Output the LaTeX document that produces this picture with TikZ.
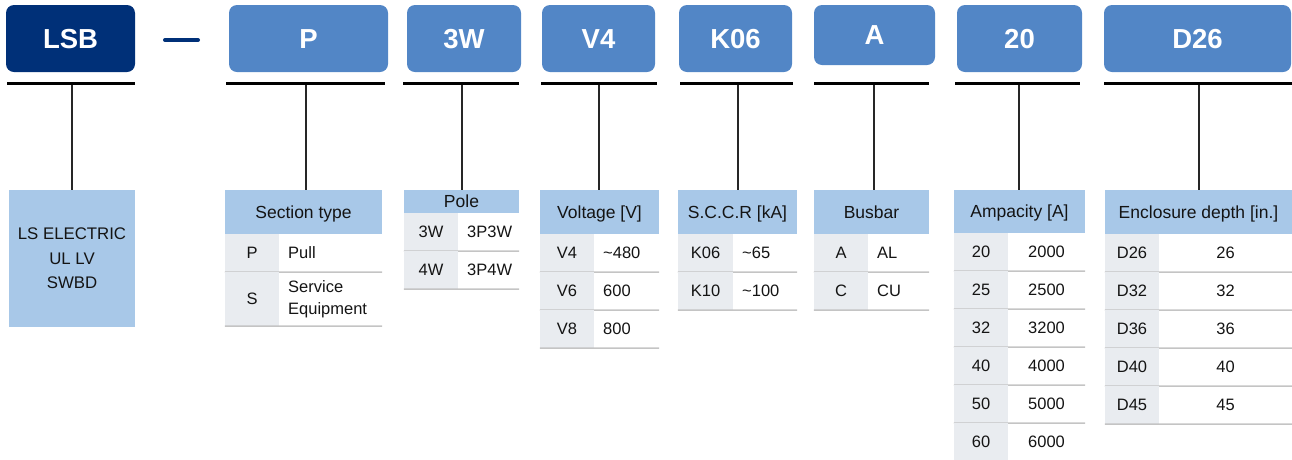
\documentclass[tikz,border=0pt]{standalone}
\usepackage{fontspec}
\setmainfont{Liberation Sans}
\definecolor{navy}{RGB}{0,48,120}
\definecolor{midblue}{RGB}{82,134,198}
\definecolor{lightblue}{RGB}{168,200,232}
\definecolor{keygray}{RGB}{233,236,240}
\definecolor{sepgray}{RGB}{196,196,196}
\definecolor{txt}{RGB}{20,20,20}
\tikzset{
 topbox/.style={rounded corners=8pt, fill=midblue, text=white, inner sep=0pt,
   font=\fontsize{27.5}{30}\selectfont\bfseries, text height=19.7pt, text depth=0pt},
 barline/.style={line width=3pt, draw=black},
 conn/.style={line width=1.2pt, draw=black!85},
 hdrcell/.style={fill=lightblue, inner sep=0pt, text=txt,
   font=\fontsize{17.5}{20}\selectfont, text height=12.5pt, text depth=0pt},
 keycell/.style={fill=keygray, inner sep=0pt, text=txt,
   font=\fontsize{16.5}{19}\selectfont, text height=11.8pt, text depth=0pt},
 valtxt/.style={inner sep=0pt, text=txt,
   font=\fontsize{16.5}{19}\selectfont, text height=11.8pt, text depth=0pt},
 sepline/.style={draw=sepgray, line width=1.5pt},
}
% left-aligned value row
\newcommand\trowL[9]{%
  \node[keycell, minimum width={(#3-#2)*1pt}, minimum height={(#6-#5)*1pt}] (#1k) at ({(#2+#3)/2},{(#5+#6)/2}) {#7};
  \node[valtxt, anchor=west, #9] (#1v) at ({#3+9},{(#5+#6)/2}) {#8};
  \draw[sepline] (#1k.south west) -- (#4,#6);
}
% centred value row
\newcommand\trowC[9]{%
  \node[keycell, minimum width={(#3-#2)*1pt}, minimum height={(#6-#5)*1pt}] (#1k) at ({(#2+#3)/2},{(#5+#6)/2}) {#7};
  \node[valtxt, #9] (#1v) at ({(#3+#4)/2},{(#5+#6)/2}) {#8};
  \draw[sepline] (#1k.south west) -- (#4,#6);
}
\begin{document}
\begin{tikzpicture}[x=1pt,y=-1pt]
\useasboundingbox (0,0) rectangle (1292,459);

% ---------- top code boxes ----------
\node[topbox, fill=navy, minimum width=129pt, minimum height=67pt] (lsb) at (70.5,38.5) {LSB};
\node[topbox, minimum width=159pt, minimum height=67pt] (bp) at (308.5,38.5) {P};
\node[topbox, minimum width=114pt, minimum height=67pt] (bw) at (464,38.5) {3W};
\node[topbox, minimum width=113pt, minimum height=67pt] (bv) at (598.5,38.5) {V4};
\node[topbox, minimum width=113pt, minimum height=67pt] (bk) at (735.5,38.5) {K06};
\node[topbox, minimum width=121pt, minimum height=60pt] (ba) at (874.5,35) {A};
\node[topbox, minimum width=125pt, minimum height=67pt] (bn) at (1019.5,38.5) {20};
\node[topbox, minimum width=187pt, minimum height=67pt] (bd) at (1197.5,38.5) {D26};

% dash
\coordinate (dashL) at (165,40);
\coordinate (dashR) at (198,40);
\draw[navy, line width=4pt, line cap=round] (dashL) -- (dashR);

% ---------- black bars ----------
\coordinate (lsbL) at (7,83.5);    \coordinate (lsbR) at (135,83.5);
\coordinate (pL) at (226,83.5);    \coordinate (pR) at (385,83.5);
\coordinate (wL) at (403,83.5);    \coordinate (wR) at (519,83.5);
\coordinate (vL) at (541,83.5);    \coordinate (vR) at (657,83.5);
\coordinate (kL) at (680,83.5);    \coordinate (kR) at (793,83.5);
\coordinate (aL) at (814,83.5);    \coordinate (aR) at (929,83.5);
\coordinate (nL) at (955,83.5);    \coordinate (nR) at (1080,83.5);
\coordinate (dL) at (1104,83.5);   \coordinate (dR) at (1292,83.5);
\foreach \s in {lsb,p,w,v,k,a,n,d} {\draw[barline] (\s L) -- (\s R);}

% ---------- tables ----------
% LS box
\node[fill=lightblue, inner sep=0pt, minimum width=126pt, minimum height=137pt, align=center,
      text=txt, font=\fontsize{16.8}{24.5}\selectfont] (lst) at (72,258.5) {LS ELECTRIC\\UL LV\\SWBD};

% Section type
\node[hdrcell, minimum width=157pt, minimum height=44pt] (sech) at (303.5,212) {Section type};
\trowL{sa}{225}{279}{382}{234}{272}{P}{Pull}{}
\trowL{sb}{225}{279}{382}{272}{326}{S}{Service\\Equipment}{align=left, text height=, text depth=, font=\fontsize{16.5}{21.5}\selectfont}

% Pole
\node[hdrcell, minimum width=115pt, minimum height=23pt] (poh) at (461.5,201.5) {Pole};
\trowL{pa}{404}{458}{519}{213}{251}{3W}{3P3W}{}
\trowL{pb}{404}{458}{519}{251}{289}{4W}{3P4W}{}

% Voltage
\node[hdrcell, minimum width=119pt, minimum height=44pt] (voh) at (599.5,212) {Voltage [V]};
\trowL{va}{540}{594}{659}{234}{272}{V4}{\textasciitilde480}{}
\trowL{vb}{540}{594}{659}{272}{310}{V6}{600}{}
\trowL{vc}{540}{594}{659}{310}{348}{V8}{800}{}

% SCCR
\node[hdrcell, minimum width=119pt, minimum height=44pt] (sch) at (737.5,212) {S.C.C.R [kA]};
\trowL{ka}{678}{733}{797}{234}{272}{K06}{\textasciitilde65}{}
\trowL{kb}{678}{733}{797}{272}{310}{K10}{\textasciitilde100}{}

% Busbar
\node[hdrcell, minimum width=115pt, minimum height=44pt] (buh) at (871.5,212) {Busbar};
\trowL{ba}{814}{868}{929}{234}{272}{A}{AL}{}
\trowL{bb}{814}{868}{929}{272}{310}{C}{CU}{}

% Ampacity
\node[hdrcell, minimum width=131pt, minimum height=43pt] (amh) at (1019.5,211.5) {Ampacity [A]};
\trowC{aa}{954}{1008}{1085}{233}{271}{20}{2000}{}
\trowC{ab}{954}{1008}{1085}{271}{309}{25}{2500}{}
\trowC{ac}{954}{1008}{1085}{309}{347}{32}{3200}{}
\trowC{ad}{954}{1008}{1085}{347}{385}{40}{4000}{}
\trowC{ae}{954}{1008}{1085}{385}{423}{50}{5000}{}
\node[keycell, minimum width=54pt, minimum height=38pt] (afk) at (981,442) {60};
\node[valtxt] (afv) at (1046.5,442) {6000};

% Enclosure depth
\node[hdrcell, minimum width=187pt, minimum height=44pt] (enh) at (1198.5,212) {Enclosure depth [in.]};
\trowC{ea}{1105}{1159}{1292}{234}{272}{D26}{26}{}
\trowC{eb}{1105}{1159}{1292}{272}{310}{D32}{32}{}
\trowC{ec}{1105}{1159}{1292}{310}{348}{D36}{36}{}
\trowC{ed}{1105}{1159}{1292}{348}{386}{D40}{40}{}
\trowC{ee}{1105}{1159}{1292}{386}{424}{D45}{45}{}

% ---------- connectors ----------
\coordinate (lsbM) at (72,85);
\coordinate (pM) at (306,85);
\coordinate (wM) at (462,85);
\coordinate (vM) at (599,85);
\coordinate (kM) at (738,85);
\coordinate (aM) at (874,85);
\coordinate (nM) at (1019,85);
\coordinate (dM) at (1199,85);
\draw[conn] (lsbM) -- (lsbM |- lst.north);
\draw[conn] (pM) -- (pM |- sech.north);
\draw[conn] (wM) -- (wM |- poh.north);
\draw[conn] (vM) -- (vM |- voh.north);
\draw[conn] (kM) -- (kM |- sch.north);
\draw[conn] (aM) -- (aM |- buh.north);
\draw[conn] (nM) -- (nM |- amh.north);
\draw[conn] (dM) -- (dM |- enh.north);
\end{tikzpicture}
\end{document}
